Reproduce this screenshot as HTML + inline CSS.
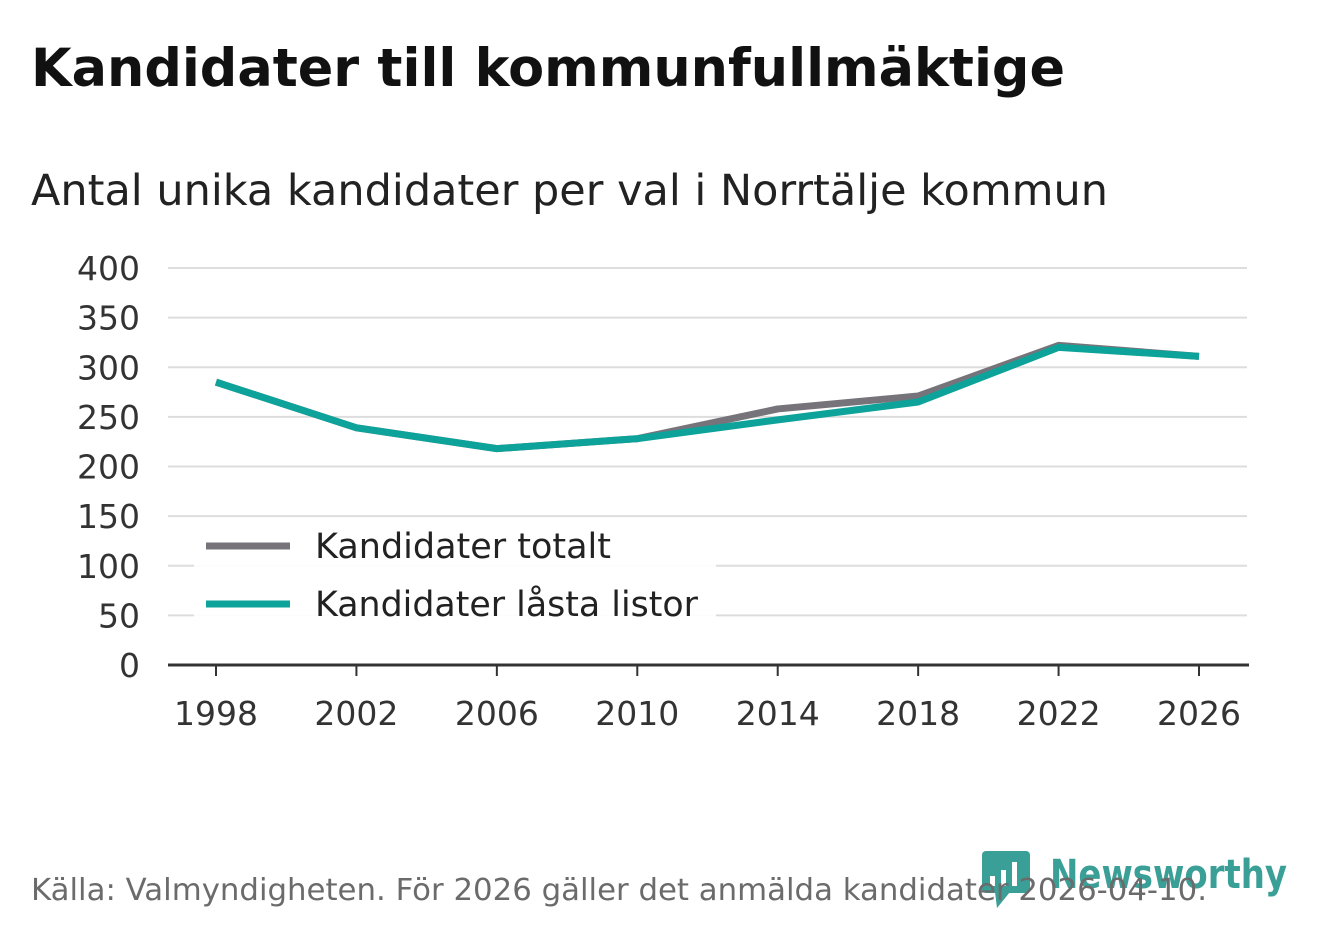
<!DOCTYPE html>
<html><head><meta charset="utf-8"><style>
body{margin:0;width:1322px;height:939px;background:#fff;font-family:"DejaVu Sans","Liberation Sans",sans-serif;overflow:hidden;position:relative}
</style></head><body>
<svg id="c" width="1322" height="939" style="position:absolute;left:0;top:0">
<text x="31" y="86" font-size="53" font-weight="bold" fill="#111" textLength="1034" lengthAdjust="spacingAndGlyphs">Kandidater till kommunfullmäktige</text>
<text x="31" y="205" font-size="43" fill="#222" textLength="1077" lengthAdjust="spacingAndGlyphs">Antal unika kandidater per val i Norrtälje kommun</text>
<g>
<rect x="982" y="851" width="48" height="42" rx="4" fill="#3a9f97"/>
<polygon points="995,892 1010,892 997,908" fill="#3a9f97"/>
<rect x="990" y="876" width="5" height="10" fill="#fff"/><rect x="1001" y="870" width="5" height="16" fill="#fff"/><rect x="1012" y="862" width="5" height="24" fill="#fff"/>
<text x="1050" y="888" font-size="40" font-weight="bold" fill="#3a9f97" textLength="237" lengthAdjust="spacingAndGlyphs">Newsworthy</text>
</g>
<text x="31" y="900" font-size="30" fill="#6b6b6b" textLength="1176" lengthAdjust="spacingAndGlyphs">Källa: Valmyndigheten. För 2026 gäller det anmälda kandidater 2026-04-10.</text>
</svg>
<script>
const years=[1998,2002,2006,2010,2014,2018,2022,2026];
const totalt=[285,239,218,228,258,271,322,311];
const lasta=[285,239,218,228,247,265,320,311];
const yTicks=[0,50,100,150,200,250,300,350,400];
const svg=document.getElementById('c');const NS='http://www.w3.org/2000/svg';
const x=v=>216+(v-1998)/28*983;const y=v=>665-v*0.9925;
function el(t,a,p){const e=document.createElementNS(NS,t);for(const k in a)e.setAttribute(k,a[k]);(p||svg).appendChild(e);return e;}
yTicks.forEach(v=>{
const l=el('line',{x1:168,x2:1247,y1:y(v),y2:y(v),stroke:'#ddd','stroke-width':2});


const t=el('text',{x:140,y:y(v)+12,'font-size':33,fill:'#333','text-anchor':'end'});t.textContent=v;


});
const ax=el('line',{x1:168,x2:1249,y1:665,y2:665,stroke:'#333','stroke-width':3});


years.forEach(v=>{
const tk=el('line',{x1:x(v),x2:x(v),y1:665,y2:676,stroke:'#333','stroke-width':2});


const t=el('text',{x:x(v),y:725,'font-size':33,fill:'#333','text-anchor':'middle'});t.textContent=v;


});
function line(d,c,n){const p=el('polyline',{points:d.map((v,i)=>x(years[i])+','+y(v)).join(' '),fill:'none',stroke:c,'stroke-width':7,'stroke-linejoin':'round'});

}
line(totalt,'#76747a','series-kandidater-totalt');
line(lasta,'#0ea39a','series-kandidater-lasta-listor');
const lg=el('rect',{x:194,y:518,width:522,height:114,fill:'#fff','fill-opacity':0.9});


[['Kandidater totalt','#76747a',546,296],['Kandidater låsta listor','#0ea39a',604,383]].forEach(([s,c,yy,w])=>{
const l=el('line',{x1:206,x2:290,y1:yy,y2:yy,stroke:c,'stroke-width':7});


const t=el('text',{x:315,y:yy+12,'font-size':35,fill:'#222',textLength:w,lengthAdjust:'spacingAndGlyphs'});t.textContent=s;


});
</script>
</body></html>
